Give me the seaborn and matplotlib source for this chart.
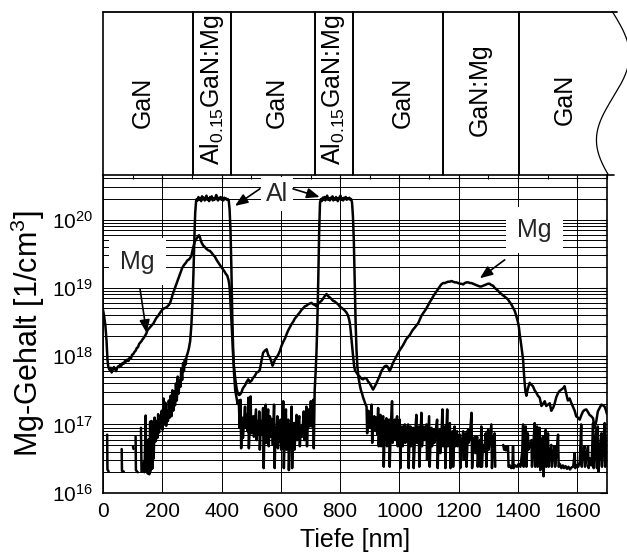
import numpy as np
import pandas as pd
import matplotlib
matplotlib.use("Agg")
import matplotlib.pyplot as plt
import seaborn as sns
from matplotlib.ticker import LogLocator, LogFormatterMathtext, MultipleLocator, NullFormatter

sns.set_theme(style="white")
plt.rcParams["font.family"] = ["Liberation Sans", "DejaVu Sans"]
plt.rcParams["mathtext.fontset"] = "custom"
plt.rcParams["mathtext.rm"] = "Liberation Sans"
plt.rcParams["mathtext.it"] = "Liberation Sans:italic"
plt.rcParams["mathtext.default"] = "regular"

# ---------------- data (depth in nm, log10 of concentration) ----------------
mg_depth = [0, 4, 8, 12, 15, 18, 22, 26, 29, 33, 37, 40, 44, 47, 51, 55, 58, 62, 66, 70, 74, 78, 82, 86, 90, 94, 98,
            102, 106, 110, 114, 118, 122, 126, 130, 134, 138, 142, 146, 150, 154, 158, 162, 166, 170, 175, 180, 186,
            190, 195, 200, 206, 212, 218, 224, 228, 232, 237, 242, 247, 252, 257, 262, 267, 271, 276, 280, 284, 288,
            293, 298, 302, 306, 310, 314, 318, 321, 324, 327, 330, 334, 338, 343, 349, 355, 361, 367, 372, 377, 383,
            389, 395, 400, 405, 411, 415, 419, 423, 426, 428, 430, 432, 435, 437, 439, 441, 443, 447, 451, 455, 459,
            463, 467, 471, 475, 479, 484, 490, 495, 501, 506, 512, 518, 524, 529, 534, 540, 546, 552, 557, 563, 568,
            572, 576, 580, 585, 591, 597, 602, 608, 614, 620, 625, 631, 636, 641, 647, 653, 658, 664, 670, 675, 681,
            687, 692, 698, 703, 709, 714, 720, 725, 731, 737, 742, 748, 754, 759, 765, 770, 776, 782, 787, 793, 798,
            804, 810, 815, 821, 826, 830, 833, 835, 838, 841, 844, 847, 850, 855, 861, 866, 872, 877, 883, 889, 894,
            900, 906, 911, 917, 922, 928, 934, 939, 945, 950, 956, 961, 967, 973, 978, 984, 989, 995, 1000, 1006,
            1012, 1018, 1023, 1029, 1035, 1040, 1046, 1052, 1057, 1063, 1068, 1074, 1080, 1085, 1091, 1097, 1102,
            1108, 1113, 1119, 1125, 1130, 1136, 1141, 1147, 1153, 1158, 1164, 1170, 1175, 1181, 1187, 1192, 1198,
            1204, 1209, 1215, 1220, 1226, 1232, 1238, 1243, 1249, 1254, 1259, 1265, 1271, 1276, 1282, 1287, 1293,
            1298, 1304, 1310, 1316, 1321, 1327, 1332, 1338, 1344, 1349, 1355, 1361, 1366, 1372, 1377, 1383, 1389,
            1394, 1397, 1400, 1403, 1405, 1408, 1411, 1414, 1417, 1419, 1422, 1425, 1428, 1433, 1439, 1445, 1450,
            1456, 1462, 1467, 1473, 1479, 1484, 1490, 1495, 1501, 1507, 1512, 1518, 1523, 1529, 1535, 1540, 1546,
            1552, 1557, 1563, 1568, 1574, 1580, 1585, 1591, 1596, 1602, 1608, 1613, 1619, 1624, 1630, 1636, 1641,
            1647, 1653, 1658, 1664, 1669, 1675, 1681, 1686, 1692, 1697, 1700]
mg_log = [18.68, 18.58, 18.45, 18.22, 17.95, 17.84, 17.80, 17.83, 17.76, 17.80, 17.84, 17.82, 17.78, 17.82, 17.85,
          17.84, 17.88, 17.86, 17.90, 17.89, 17.93, 17.92, 17.95, 17.93, 17.98, 17.96, 18.02, 18.03, 18.06, 18.08,
          18.12, 18.13, 18.18, 18.20, 18.22, 18.25, 18.27, 18.30, 18.33, 18.38, 18.40, 18.42, 18.44, 18.46, 18.48,
          18.52, 18.56, 18.59, 18.62, 18.65, 18.68, 18.70, 18.71, 18.73, 18.76, 18.80, 18.86, 18.93, 18.99, 19.05,
          19.11, 19.17, 19.23, 19.29, 19.32, 19.35, 19.37, 19.40, 19.41, 19.43, 19.47, 19.55, 19.62, 19.68, 19.71,
          19.74, 19.76, 19.77, 19.74, 19.69, 19.65, 19.62, 19.60, 19.57, 19.55, 19.54, 19.51, 19.48, 19.46, 19.41,
          19.37, 19.33, 19.30, 19.27, 19.23, 19.20, 19.18, 19.12, 19.05, 18.95, 18.79, 18.62, 18.39, 18.20, 18.00,
          17.88, 17.80, 17.64, 17.52, 17.45, 17.43, 17.44, 17.47, 17.52, 17.55, 17.57, 17.62, 17.66, 17.62, 17.64,
          17.68, 17.71, 17.76, 17.77, 17.80, 17.92, 18.05, 18.08, 18.10, 18.02, 17.98, 17.92, 17.86, 17.90, 17.95,
          17.98, 18.02, 18.08, 18.15, 18.21, 18.26, 18.33, 18.38, 18.43, 18.47, 18.50, 18.55, 18.58, 18.61, 18.64,
          18.68, 18.70, 18.73, 18.74, 18.76, 18.77, 18.78, 18.76, 18.75, 18.73, 18.76, 18.79, 18.81, 18.84, 18.88,
          18.91, 18.88, 18.86, 18.84, 18.81, 18.80, 18.78, 18.76, 18.73, 18.71, 18.69, 18.67, 18.64, 18.60, 18.54,
          18.47, 18.39, 18.25, 18.10, 17.98, 17.86, 17.79, 17.76, 17.72, 17.70, 17.67, 17.66, 17.68, 17.67, 17.63,
          17.60, 17.55, 17.51, 17.56, 17.60, 17.66, 17.72, 17.78, 17.82, 17.85, 17.86, 17.84, 17.78, 17.84, 17.90,
          17.95, 17.99, 18.04, 18.08, 18.12, 18.16, 18.21, 18.25, 18.28, 18.31, 18.35, 18.39, 18.42, 18.45, 18.48,
          18.53, 18.59, 18.63, 18.66, 18.70, 18.75, 18.79, 18.83, 18.87, 18.91, 18.95, 18.98, 19.02, 19.05, 19.07,
          19.07, 19.08, 19.09, 19.09, 19.10, 19.09, 19.08, 19.08, 19.07, 19.06, 19.06, 19.05, 19.07, 19.08, 19.08,
          19.07, 19.07, 19.06, 19.05, 19.04, 19.03, 19.02, 19.02, 19.03, 19.04, 19.05, 19.06, 19.06, 19.04, 19.03,
          19.00, 18.98, 18.96, 18.93, 18.91, 18.89, 18.87, 18.85, 18.83, 18.79, 18.76, 18.71, 18.66, 18.59, 18.54,
          18.49, 18.42, 18.34, 18.25, 18.15, 18.05, 17.95, 17.80, 17.62, 17.48, 17.42, 17.52, 17.61, 17.58, 17.56,
          17.50, 17.46, 17.42, 17.39, 17.27, 17.30, 17.34, 17.27, 17.29, 17.31, 17.20, 17.24, 17.30, 17.40, 17.46,
          17.49, 17.51, 17.53, 17.56, 17.44, 17.35, 17.38, 17.31, 17.26, 17.20, 17.12, 17.10, 17.07, 17.13, 17.19,
          17.21, 17.22, 17.18, 17.14, 17.12, 17.09, 16.95, 17.05, 17.19, 17.24, 17.29, 17.28, 17.26, 17.20, 17.15]

nan = np.nan
al_depth = [14, 15, 19, nan, 63, 64, 70, nan, 101, 103, nan, 110, 111, 117, nan,
            128, 130, 135, 138, 140, 144, 146, 149, 151, 154, 156, 159, 161, 164, 166, 169, 171, 174, 177, 180, 183,
            186, 189, 192, 195, 198, 201, 204, 207, 210, 213, 216, 219, 222, 225, 228, 231, 234, 237, 240, 243, 246,
            249, 252, 255, 258, 261, 264, 267, 270, 273, 276, 279, 282, 286, 290, 294, 298, 302, 305, 308, 311, 314,
            316, 319, 322, 325, 328, 331, 334, 337, 340, 343, 346, 349, 352, 355, 358, 361, 364, 367, 370, 373, 376,
            379, 382, 385, 388, 391, 394, 397, 400, 403, 406, 409, 412, 415, 418, 421, 424, 427, 430, 433, 436, 439,
            442, 446, 450, 454, 458, 461, 464, 466, 469, 472, 476, 479, 481, 485, 488, 490, 492, 495, 498, 500, 503,
            507, 509, 512, 516, 518, 522, 525, 527, 529, 533, 536, 540, 542, 545, 549, 551, 554, 557, 559, 563, 565,
            569, 573, 577, 579, 582, 585, 588, 590, 594, 597, 599, 601, 605, 608, 610, 613, 617, 619, 622, 625, 627,
            631, 634, 636, 638, 641, 644, 646, 650, 653, 655, 658, 662, 664, 667, 670, 672, 675, 677, 679, 683, 686,
            688, 691, 694, 696, 699, 701, 703, 706, 709, 711, 714, 717, 720, 723, 726, 729, 732, 735, 738, 741, 744,
            747, 750, 753, 756, 759, 762, 765, 768, 771, 774, 777, 780, 783, 786, 789, 792, 795, 798, 801, 804, 807,
            810, 813, 816, 819, 822, 825, 828, 831, 834, 837, 840, 843, 846, 849, 852, 855, 858, 862, 866, 870, 874,
            877, 881, 885, 889, 891, 895, 899, 903, 906, 908, 912, 915, 917, 921, 925, 928, 930, 933, 936, 938, 942,
            945, 947, 950, 953, 956, 958, 962, 965, 967, 971, 975, 977, 980, 984, 986, 989, 992, 994, 997, 1001,
            1003, 1006, 1009, 1011, 1014, 1018, 1020, 1024, 1029, 1031, 1034, 1037, 1039, 1043, 1046, 1048, 1052,
            1057, 1059, 1062, 1065, 1067, 1071, 1074, 1076, 1079, 1082, 1084, 1088, 1091, 1093, 1097, 1100, 1102,
            1105, 1108, 1110, 1113, 1116, 1118, 1122, 1127, 1129, 1132, 1136, 1138, 1141, 1145, 1147, 1150, 1153,
            1155, 1158, 1161, 1163, 1166, 1170, 1172, 1175, 1179, 1181, 1184, 1186, 1188, 1191, 1194, 1196, 1200,
            1203, 1205, 1209, 1215, 1217, 1220, 1224, 1226, 1229, 1231, 1233, 1237, 1243, 1245, 1249, 1254, 1256,
            1259, 1262, 1264, 1268, 1271, 1273, 1276, 1278, 1282, 1286, 1291, 1293, 1296, 1299, 1301, 1305, 1310,
            1312, 1316, 1321, 1323, nan, 1350, 1353, 1356, 1359, 1363, 1366, 1368, 1372, 1377, 1381, 1383, 1385,
            1390, 1396, 1402, 1408, 1414, 1417, 1419, 1423, 1426, 1428, 1431, 1433, 1435, 1440, 1445, 1447, 1451,
            1456, 1458, 1461, 1464, 1466, 1470, 1473, 1475, 1479, 1484, 1486, 1490, 1493, 1495, 1498, 1501, 1503,
            1507, 1512, 1514, 1518, 1523, 1525, 1530, 1535, 1537, 1541, 1546, 1551, 1555, 1560, 1565, 1570, 1575,
            1580, 1586, 1591, 1593, 1598, 1603, 1608, 1613, 1615, 1619, 1624, 1626, 1631, 1636, 1638, 1643, 1648,
            1653, 1655, 1659, 1664, 1666, 1669, 1671, 1676, 1681, 1683, 1687, 1692, 1694, 1698, 1700]
al_log = [16.85, 16.34, 16.31, nan, 16.64, 16.32, 16.31, nan, 16.68, 16.64, nan, 16.82, 16.33, 16.30, nan,
          16.95, 16.31, 16.32, 16.45, 16.30, 17.13, 16.33, 16.62, 16.28, 16.78, 16.27, 17.04, 16.32, 17.05, 16.35,
          16.90, 16.50, 17.10, 16.75, 17.05, 16.80, 17.15, 16.88, 17.12, 16.95, 17.20, 16.92, 17.38, 17.00, 17.32,
          16.98, 17.20, 17.05, 17.35, 17.10, 17.42, 17.12, 17.50, 17.20, 17.48, 17.28, 17.60, 17.35, 17.70, 17.45,
          17.65, 17.55, 17.82, 17.65, 17.90, 17.78, 17.95, 17.88, 18.00, 18.05, 18.12, 18.22, 18.45, 18.80, 19.20,
          19.70, 20.10, 20.27,
          20.30, 20.28, 20.33, 20.29, 20.31, 20.27, 20.34, 20.30, 20.32, 20.28, 20.31, 20.35, 20.29, 20.31, 20.27,
          20.33, 20.30, 20.34, 20.28, 20.31, 20.29, 20.32, 20.36, 20.30, 20.28, 20.32, 20.30, 20.33, 20.29, 20.31,
          20.28, 20.32, 20.30, 20.31, 20.29, 20.30, 20.28, 20.15, 19.85, 19.30, 18.60, 18.10, 17.75, 17.50, 17.40,
          17.30, 17.35, 16.95, 17.36, 16.65, 17.10, 16.80, 17.05, 17.26, 16.95, 17.15, 16.90, 17.39, 16.65, 17.00,
          17.41, 16.87, 17.05, 17.12, 16.82, 17.00, 17.22, 16.77, 17.05, 16.85, 17.19, 16.63, 17.05, 16.85, 17.24,
          16.36, 17.00, 17.29, 16.73, 17.05, 17.22, 16.68, 17.12, 16.82, 17.08, 16.70, 17.29, 16.36, 16.95, 16.80,
          17.12, 16.65, 17.00, 16.75, 17.07, 16.63, 16.98, 17.34, 16.36, 16.90, 17.22, 16.63, 16.95, 17.07, 16.33,
          17.00, 16.80, 17.26, 16.36, 16.92, 17.02, 16.63, 16.95, 17.14, 16.77, 17.00, 17.12, 16.68, 16.95, 16.97,
          16.82, 17.05, 17.19, 16.77, 17.00, 17.26, 16.68, 17.05, 17.22, 16.97, 17.10, 17.34, 16.97, 17.15, 17.36,
          16.65, 17.50, 17.75, 18.05, 18.50, 19.10, 19.80, 20.25,
          20.30, 20.27, 20.32, 20.29, 20.33, 20.28, 20.31, 20.35, 20.29, 20.31, 20.28, 20.32, 20.30, 20.34, 20.28,
          20.31, 20.29, 20.33, 20.30, 20.27, 20.32, 20.30, 20.35, 20.29, 20.31, 20.28, 20.32, 20.30, 20.33, 20.29,
          20.31, 20.30, 20.32, 20.29, 20.30, 20.25, 20.05, 19.70, 19.10, 18.50, 18.10, 17.85, 17.68, 17.58, 17.50,
          17.45, 17.40, 17.35, 17.30, 17.26, 16.87, 17.20, 16.95, 17.15, 17.29, 16.73, 17.05, 17.12, 16.92, 17.10,
          16.85, 17.24, 16.68, 17.00, 17.14, 16.68, 17.05, 17.12, 16.38, 16.95, 17.05, 17.09, 16.68, 17.00, 17.07,
          16.38, 17.00, 17.34, 16.73, 16.95, 17.07, 16.77, 17.00, 17.12, 16.68, 16.95, 17.07, 16.36, 16.90, 16.97,
          16.68, 16.85, 17.00, 16.73, 16.90, 17.00, 16.36, 16.85, 16.97, 16.68, 16.90, 16.95, 16.36, 16.80, 17.14,
          16.73, 16.90, 16.97, 16.38, 16.85, 17.17, 16.68, 16.90, 16.97, 16.77, 16.90, 17.00, 16.48, 16.85, 17.12,
          16.38, 16.80, 16.95, 16.68, 16.85, 16.92, 16.73, 16.90, 17.07, 16.36, 16.85, 16.92, 16.58, 16.80, 17.22,
          16.68, 16.90, 16.97, 16.36, 16.85, 17.22, 16.68, 16.85, 17.02, 16.36, 16.80, 16.90, 16.38, 16.75, 16.97,
          16.68, 16.80, 16.90, 16.68, 16.75, 16.85, 16.36, 16.70, 16.90, 16.48, 16.75, 16.87, 16.38, 16.70, 16.92,
          16.73, 16.80, 17.17, 16.36, 16.70, 16.82, 16.58, 16.70, 16.82, 16.38, 16.65, 16.77, 16.38, 16.97, 16.38,
          16.70, 16.60, 16.87, 16.38, 16.70, 16.92, 16.63, 16.80, 17.00, 16.36, 16.75, 16.87, 16.38, nan,
          16.70, 16.63, 16.68, 16.62, 16.66, 16.68, 16.38, 16.40, 16.36, 16.38, 16.68, 16.36,
          16.40, 16.38, 16.42, 16.38, 16.60, 17.00, 16.38, 16.80, 16.97, 16.38, 16.70, 16.87, 16.63, 16.70, 16.77,
          16.38, 16.65, 17.02, 16.38, 16.75, 16.97, 16.38, 16.80, 16.95, 16.33, 16.70, 16.82, 16.24, 16.70, 16.92,
          16.38, 16.70, 16.87, 16.38, 16.55, 16.70, 16.38, 16.55, 16.68, 16.38, 16.60, 16.85, 16.38, 16.42, 16.36,
          16.40, 16.36, 16.39, 16.35, 16.38, 16.34, 16.37, 16.38, 16.58, 16.36, 16.40, 16.38, 16.45, 17.00, 16.38,
          16.60, 16.68, 16.38, 16.55, 16.68, 16.36, 16.50, 16.40, 17.02, 16.36, 16.70, 16.92, 16.36, 16.97, 16.31,
          16.60, 16.87, 16.38, 16.70, 17.02, 16.38, 16.80, 16.50]

layer_names = ["GaN", r"Al$_{0.15}$GaN:Mg", "GaN", r"Al$_{0.15}$GaN:Mg", "GaN", "GaN:Mg", "GaN"]
layer_bounds = [0, 304, 431, 714, 844, 1147, 1403]
x_ticks = [0, 200, 400, 600, 800, 1000, 1200, 1400, 1600]

# ---------------- build frames ----------------
mg_df = pd.DataFrame({"depth": mg_depth, "conc": 10.0 ** np.array(mg_log)})
al_df = pd.DataFrame({"depth": al_depth, "lg": al_log})
al_df["seg"] = al_df["depth"].isna().cumsum()
al_df = al_df.dropna().copy()
al_df["conc"] = 10.0 ** al_df["lg"]

W, H = 627, 559
fig = plt.figure(figsize=(W / 100, H / 100), dpi=100)
fig.patch.set_facecolor("white")

x0, x1 = 103, 607
yb, yt, ytop = 492.7, 174.5, 11.5
ax = fig.add_axes([x0 / W, 1 - yb / H, (x1 - x0) / W, (yb - yt) / H])
axt = fig.add_axes([x0 / W, 1 - yt / H, (x1 - x0) / W, (yt - ytop) / H])

ax.set_yscale("log")
ax.set_xlim(0, 1700)
ax.set_ylim(1e16, 10 ** 20.66)

lw_curve = 1.8
sns.lineplot(data=al_df, x="depth", y="conc", units="seg", estimator=None, sort=False,
             color="black", lw=lw_curve, ax=ax, zorder=4)
sns.lineplot(data=mg_df, x="depth", y="conc", estimator=None, sort=False,
             color="black", lw=lw_curve, ax=ax, zorder=4)

ax.set_xticks(x_ticks)
ax.xaxis.set_minor_locator(MultipleLocator(100))
ax.yaxis.set_major_locator(LogLocator(base=10, numticks=10))
ax.yaxis.set_major_formatter(LogFormatterMathtext())
ax.yaxis.set_minor_locator(LogLocator(base=10, subs=np.arange(2, 10), numticks=20))
ax.yaxis.set_minor_formatter(NullFormatter())

ax.set_axisbelow(True)
ax.grid(True, which="both", axis="y", color="black", lw=0.7)
ax.grid(True, which="major", axis="x", color="black", lw=0.7)
ax.tick_params(which="both", direction="in", top=True, right=True, colors="black", labelsize=15)
ax.tick_params(which="major", length=5, width=0.8, pad=7)
ax.tick_params(which="minor", length=3, width=0.8)
for s in ax.spines.values():
    s.set_visible(True)
    s.set_color("black")
    s.set_linewidth(1.2)

ax.set_xlabel("Tiefe [nm]", fontsize=18, labelpad=5, color="black")
ax.set_ylabel("Mg-Gehalt [1/cm$^3$]", fontsize=22, labelpad=4, color="black")

# annotation labels
box = dict(boxstyle="square,pad=0.45", facecolor="white", edgecolor="none")
ax.text(116, 10 ** 19.385, "Mg", fontsize=18, ha="center", va="center", bbox=box, zorder=3)
ax.text(1456, 10 ** 19.85, "Mg", fontsize=18, ha="center", va="center", bbox=box, zorder=3)
ax.text(588, 10 ** 20.37, "Al", fontsize=18, ha="center", va="center",
        bbox=dict(boxstyle="square,pad=0.2", facecolor="white", edgecolor="none"), zorder=3)
arrow = dict(arrowstyle="-|>,head_length=0.55,head_width=0.22", color="black", lw=1.2,
             mutation_scale=14, shrinkA=0, shrinkB=0)
ax.annotate("", xy=(147, 10 ** 18.34), xytext=(125, 10 ** 18.98), arrowprops=arrow, zorder=5)
ax.annotate("", xy=(445, 10 ** 20.20), xytext=(529, 10 ** 20.45), arrowprops=arrow, zorder=5)
ax.annotate("", xy=(731, 10 ** 20.33), xytext=(641, 10 ** 20.45), arrowprops=arrow, zorder=5)
ax.annotate("", xy=(1271, 10 ** 19.14), xytext=(1355, 10 ** 19.41), arrowprops=arrow, zorder=5)

# ---------------- layer panel ----------------
axt.set_xlim(0, 1700)
axt.set_ylim(0, 1)
axt.axis("off")
axt.plot([0, 1735], [1, 1], color="black", lw=1.3, clip_on=False)
axt.plot([1700, 1722], [0, 0], color="black", lw=1.2, clip_on=False)
for b in layer_bounds:
    axt.plot([b, b], [0, 1], color="black", lw=1.4 if b > 0 else 1.2, clip_on=False)
t = np.linspace(0, 1, 200)
axt.plot(1720 + 55.6 * np.cos(2 * np.pi * (t - 0.733) / 1.043), t, color="black", lw=0.9, clip_on=False)

label_x = [157, 392, 610, 801, 1036, 1293, 1581]
label_y = [0.445, 0.518, 0.445, 0.518, 0.445, 0.518, 0.46]
for name, lx, ly in zip(layer_names, label_x, label_y):
    axt.text(lx, ly, name, rotation=90, rotation_mode="anchor", ha="center", va="baseline",
             fontsize=18, color="black")

fig.savefig("out.png", dpi=100, facecolor="white")
